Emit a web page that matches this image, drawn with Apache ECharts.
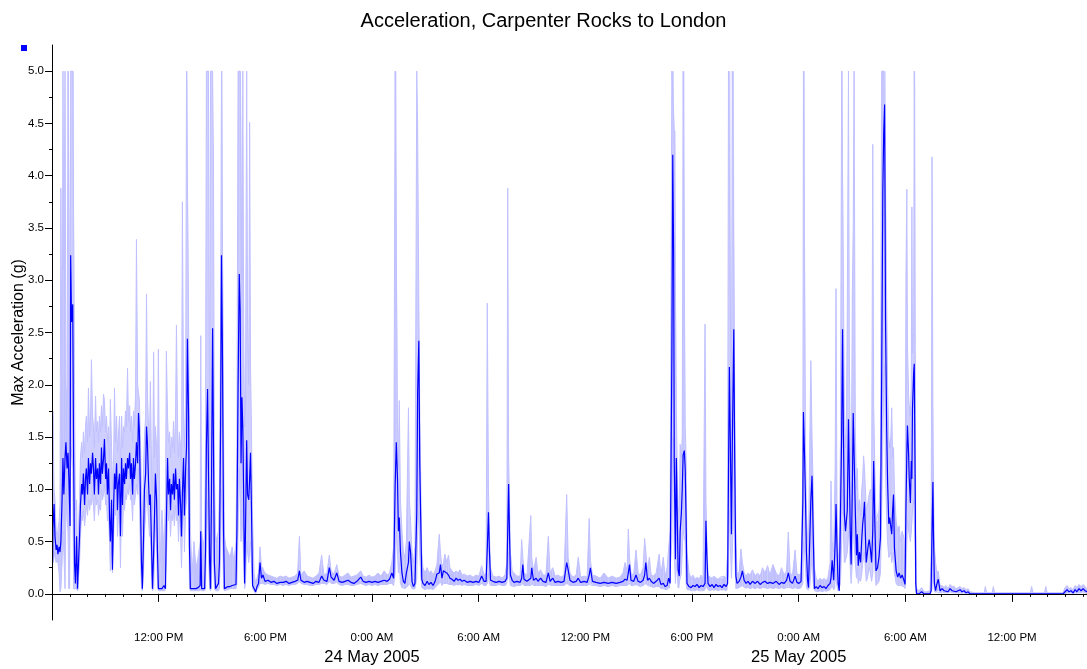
<!DOCTYPE html>
<html>
<head>
<meta charset="utf-8">
<script src="https://cdn.jsdelivr.net/npm/echarts@6/dist/echarts.min.js"></script>
<style>
html,body{margin:0;padding:0;background:#fff;}
#chart{width:1087px;height:669px;}
</style>
</head>
<body>
<div id="chart"></div>
<script>
// ---- data: minutes after 23 May 2005 06:00, values in g ----
const minutesFromStart = [
2,3,7,10,14,17,20,24,27,30,
34,37,40,44,47,51,54,57,61,63,
66,70,73,76,79,83,86,89,93,96,
100,103,106,110,113,116,120,123,127,130,
133,137,140,143,147,150,154,157,160,164,
167,170,174,177,181,184,187,191,194,197,
201,204,208,211,214,218,221,224,228,231,
235,238,241,245,248,251,255,258,262,265,
268,272,275,278,282,285,289,292,295,299,
302,305,309,312,316,319,322,326,329,332,
336,339,343,346,349,353,356,359,365,371,
378,383,386,390,393,397,400,403,407,410,
413,417,420,424,427,430,434,437,440,444,
447,451,454,457,461,464,467,473,479,486,
493,500,502,505,510,515,518,521,525,528,
532,535,538,542,545,548,552,557,562,565,
569,572,575,579,582,587,594,601,608,614,
621,624,628,632,635,638,641,644,647,650,
653,657,660,664,667,670,673,677,682,687,
692,697,702,707,712,719,729,739,749,759,
770,780,790,800,810,820,829,835,840,851,
861,871,881,891,901,910,918,928,936,942,
952,961,969,979,989,999,1009,1019,1029,1042,
1050,1060,1070,1080,1090,1100,1110,1121,1131,1139,
1147,1153,1158,1162,1166,1169,1172,1176,1181,1186,
1191,1196,1203,1206,1210,1215,1220,1225,1231,1234,
1238,1241,1244,1248,1252,1259,1266,1272,1279,1286,
1293,1299,1307,1311,1316,1321,1326,1332,1338,1343,
1350,1357,1364,1370,1377,1384,1391,1401,1411,1421,
1431,1441,1450,1458,1465,1469,1473,1476,1480,1488,
1499,1509,1519,1529,1535,1538,1541,1544,1547,1553,
1559,1569,1580,1585,1589,1593,1603,1616,1619,1625,
1634,1640,1649,1657,1667,1675,1681,1690,1698,1708,
1718,1728,1737,1742,1748,1758,1769,1776,1784,1796,
1806,1813,1817,1824,1836,1850,1863,1877,1890,1904,
1917,1927,1934,1941,1945,1949,1954,1963,1971,1978,
1986,1995,2000,2004,2010,2016,2022,2030,2039,2049,
2055,2063,2069,2076,2081,2086,2092,2095,2098,2100,
2104,2107,2110,2113,2117,2120,2124,2127,2130,2134,
2137,2140,2143,2150,2157,2163,2170,2177,2184,2190,
2197,2204,2207,2210,2214,2221,2228,2234,2241,2248,
2255,2261,2268,2275,2280,2283,2286,2289,2293,2296,
2301,2304,2308,2312,2319,2325,2330,2336,2342,2349,
2356,2364,2373,2381,2390,2398,2406,2415,2423,2433,
2444,2454,2462,2471,2479,2485,2491,2499,2508,2514,
2521,2528,2534,2536,2540,2543,2546,2550,2553,2557,
2561,2565,2569,2573,2579,2585,2592,2599,2606,2612,
2619,2626,2629,2633,2638,2643,2646,2649,2653,2657,
2661,2665,2668,2671,2674,2678,2681,2684,2688,2691,
2694,2697,2701,2704,2707,2711,2715,2718,2721,2725,
2729,2733,2736,2739,2742,2745,2748,2752,2755,2758,
2762,2766,2770,2773,2777,2781,2786,2791,2796,2800,
2804,2807,2810,2813,2817,2820,2824,2827,2831,2834,
2837,2840,2843,2849,2854,2859,2864,2869,2874,2879,
2882,2885,2887,2891,2893,2897,2900,2902,2904,2908,
2910,2913,2915,2918,2926,2935,2943,2953,2963,2967,
2970,2973,2975,2978,2982,2986,2991,2997,3004,3011,
3017,3024,3031,3038,3044,3051,3058,3065,3071,3078,
3085,3092,3098,3115,3132,3146,3150,3154,3173,3177,
3181,3200,3233,3267,3302,3306,3311,3335,3350,3354,
3358,3385,3412,3419,3426,3432,3439,3446,3453,3459,
3466,3473,3480,3486,3493
];

const avgAccel = [
0.30,0.62,0.86,0.55,0.42,0.47,0.38,0.45,0.40,0.50,
0.90,1.30,0.95,1.30,1.45,1.20,1.35,1.10,0.65,3.24,
2.60,2.77,1.30,0.30,0.10,0.55,0.05,0.05,0.55,0.85,
1.05,0.95,1.15,0.85,1.10,1.20,0.95,1.30,1.05,1.25,
1.15,1.35,1.20,0.95,1.30,1.10,1.20,0.95,1.25,1.05,
1.40,1.15,1.30,1.48,1.10,1.25,0.95,1.20,0.75,0.50,
0.90,0.23,0.85,1.15,1.00,1.25,0.80,1.05,1.15,0.55,
1.30,0.85,1.20,1.05,1.25,1.10,1.30,1.20,1.35,1.10,
1.25,0.95,1.30,1.10,1.25,1.45,1.25,1.73,1.55,0.80,
0.30,0.05,0.55,1.00,1.15,1.60,1.45,1.05,0.85,0.95,
0.45,0.05,0.40,0.75,1.15,0.90,0.40,0.05,0.05,0.05,
0.08,0.05,0.70,1.30,0.95,1.10,0.80,1.05,0.95,1.15,
0.90,1.20,1.00,1.05,0.75,1.10,0.85,0.55,0.95,1.30,
0.75,1.20,1.40,2.44,1.70,0.45,0.05,0.06,0.05,0.05,
0.06,0.08,0.60,0.05,0.05,0.05,0.40,1.40,1.96,1.20,
0.30,0.05,0.90,2.54,1.40,0.30,0.05,0.05,0.10,0.30,
1.60,3.24,2.40,0.60,0.05,0.06,0.07,0.07,0.08,0.07,
0.09,0.60,2.00,3.06,2.70,1.25,1.88,1.58,0.90,0.10,
0.60,1.47,0.95,0.90,1.10,1.35,0.85,0.08,0.07,0.02,
0.07,0.10,0.30,0.15,0.18,0.12,0.13,0.11,0.12,0.10,
0.11,0.11,0.12,0.10,0.11,0.12,0.13,0.22,0.13,0.11,
0.12,0.11,0.10,0.12,0.11,0.17,0.13,0.12,0.25,0.16,
0.13,0.20,0.12,0.11,0.12,0.13,0.11,0.10,0.12,0.16,
0.12,0.11,0.12,0.11,0.12,0.11,0.12,0.13,0.12,0.14,
0.20,0.15,1.02,1.45,1.10,0.60,0.73,0.40,0.20,0.12,
0.10,0.20,0.30,0.50,0.40,0.12,0.07,0.10,0.77,1.93,
2.42,1.28,0.77,0.14,0.10,0.08,0.12,0.09,0.11,0.08,
0.12,0.19,0.20,0.28,0.15,0.22,0.22,0.20,0.18,0.15,
0.14,0.12,0.15,0.13,0.14,0.12,0.13,0.11,0.12,0.11,
0.12,0.11,0.17,0.12,0.12,0.43,0.78,0.43,0.13,0.12,
0.11,0.12,0.11,0.12,0.15,0.60,1.05,0.57,0.18,0.13,
0.11,0.12,0.11,0.15,0.28,0.14,0.12,0.15,0.25,0.13,
0.15,0.12,0.15,0.12,0.11,0.20,0.12,0.15,0.11,0.12,
0.11,0.12,0.30,0.23,0.13,0.11,0.12,0.15,0.11,0.12,
0.11,0.18,0.25,0.12,0.11,0.10,0.11,0.10,0.11,0.10,
0.11,0.12,0.14,0.13,0.20,0.28,0.13,0.12,0.18,0.12,
0.11,0.13,0.18,0.30,0.13,0.15,0.12,0.10,0.12,0.15,
0.09,0.10,0.07,0.08,0.15,0.10,2.27,4.20,3.23,1.30,
0.33,1.30,0.78,0.23,0.17,0.60,0.77,1.00,1.33,1.37,
1.20,0.70,0.10,0.07,0.06,0.08,0.07,0.09,0.06,0.08,
0.07,0.10,0.70,0.37,0.10,0.07,0.09,0.06,0.09,0.07,
0.08,0.06,0.09,0.07,0.10,1.10,2.17,1.52,0.57,1.43,
2.53,1.30,0.17,0.10,0.12,0.16,0.22,0.13,0.10,0.12,
0.09,0.12,0.10,0.12,0.09,0.11,0.12,0.10,0.11,0.10,
0.12,0.09,0.11,0.10,0.13,0.20,0.12,0.10,0.17,0.11,
0.10,0.12,0.88,1.74,1.30,0.89,0.41,0.13,0.06,0.48,
0.90,1.13,0.58,0.05,0.07,0.05,0.08,0.06,0.07,0.05,
0.08,0.10,0.15,0.32,0.13,0.48,0.86,0.47,0.10,0.03,
0.76,1.53,2.53,1.52,0.77,0.60,0.70,0.80,1.67,1.13,
0.60,0.28,1.00,1.73,1.33,0.80,0.37,0.57,0.27,0.40,
0.30,0.53,0.67,0.75,0.88,0.57,0.30,0.40,0.47,0.52,
0.43,0.30,0.60,1.27,0.67,0.22,0.25,0.35,0.54,2.08,
3.88,4.42,4.68,2.63,1.57,1.07,0.67,0.73,0.73,0.57,
0.80,0.95,0.44,0.22,0.16,0.20,0.15,0.18,0.14,0.09,
0.83,1.34,1.61,1.33,1.11,0.87,1.27,1.10,1.77,2.12,
2.20,1.10,0.10,0.00,0.00,0.02,0.00,0.00,0.00,0.03,
0.60,1.07,0.55,0.10,0.03,0.09,0.14,0.03,0.05,0.03,
0.04,0.02,0.05,0.03,0.04,0.02,0.03,0.04,0.02,0.03,
0.01,0.02,0.00,0.00,0.00,0.00,0.01,0.00,0.00,0.01,
0.00,0.00,0.00,0.00,0.00,0.01,0.00,0.00,0.00,0.01,
0.00,0.00,0.00,0.02,0.04,0.02,0.03,0.01,0.04,0.02,
0.05,0.03,0.05,0.03,0.02
];

const minAccel = [
0.28,0.30,0.40,0.35,0.30,0.32,0.30,0.20,0.02,0.05,
0.30,0.60,0.40,0.05,0.90,0.70,0.60,0.05,0.05,1.20,
1.40,1.20,0.05,0.05,0.05,0.05,0.03,0.03,0.30,0.55,
0.75,0.70,0.80,0.65,0.75,0.85,0.75,0.90,0.80,0.90,
0.85,0.95,0.85,0.70,0.95,0.85,0.90,0.75,0.85,0.80,
1.00,0.90,0.95,1.05,0.85,0.90,0.70,0.75,0.50,0.22,
0.45,0.20,0.55,0.80,0.75,0.90,0.55,0.75,0.80,0.25,
0.90,0.55,0.85,0.80,0.95,0.90,1.00,0.95,1.05,0.90,
0.95,0.70,1.00,0.85,0.95,1.05,0.95,1.20,0.90,0.30,
0.05,0.03,0.20,0.60,0.75,1.00,0.90,0.70,0.55,0.60,
0.20,0.03,0.05,0.40,0.70,0.45,0.10,0.03,0.03,0.03,
0.03,0.03,0.30,0.80,0.70,0.80,0.55,0.75,0.70,0.80,
0.65,0.85,0.70,0.75,0.50,0.80,0.55,0.25,0.60,0.90,
0.40,0.80,0.90,1.20,0.80,0.05,0.03,0.03,0.03,0.03,
0.03,0.03,0.05,0.03,0.03,0.03,0.05,0.50,0.90,0.40,
0.05,0.03,0.05,0.80,0.40,0.05,0.03,0.03,0.03,0.05,
0.40,1.00,0.80,0.05,0.03,0.04,0.04,0.05,0.05,0.05,
0.05,0.10,0.60,1.20,0.90,0.50,0.80,0.60,0.30,0.05,
0.10,0.50,0.40,0.30,0.40,0.50,0.30,0.05,0.04,0.00,
0.04,0.06,0.10,0.10,0.10,0.09,0.10,0.09,0.09,0.08,
0.09,0.08,0.09,0.08,0.09,0.09,0.10,0.12,0.10,0.09,
0.09,0.08,0.08,0.09,0.09,0.10,0.10,0.09,0.12,0.10,
0.10,0.11,0.09,0.08,0.09,0.09,0.08,0.08,0.09,0.10,
0.09,0.08,0.09,0.08,0.09,0.08,0.09,0.09,0.09,0.10,
0.10,0.08,0.20,0.60,0.40,0.20,0.30,0.10,0.06,0.06,
0.05,0.06,0.08,0.10,0.08,0.05,0.04,0.05,0.15,0.60,
0.80,0.40,0.20,0.06,0.05,0.04,0.05,0.04,0.05,0.04,
0.06,0.08,0.10,0.12,0.08,0.10,0.10,0.10,0.09,0.09,
0.09,0.08,0.09,0.08,0.09,0.08,0.09,0.08,0.08,0.08,
0.09,0.08,0.10,0.08,0.08,0.10,0.20,0.10,0.08,0.08,
0.08,0.09,0.08,0.08,0.09,0.15,0.40,0.15,0.08,0.08,
0.07,0.08,0.08,0.08,0.10,0.08,0.08,0.08,0.10,0.08,
0.08,0.08,0.08,0.08,0.07,0.09,0.08,0.08,0.08,0.08,
0.08,0.08,0.10,0.09,0.08,0.08,0.08,0.08,0.08,0.08,
0.08,0.09,0.10,0.08,0.08,0.07,0.08,0.07,0.08,0.07,
0.08,0.08,0.08,0.08,0.09,0.10,0.08,0.08,0.09,0.08,
0.07,0.08,0.09,0.10,0.08,0.08,0.07,0.06,0.07,0.07,
0.05,0.05,0.04,0.04,0.06,0.05,0.50,1.50,1.20,0.40,
0.10,0.30,0.20,0.06,0.05,0.15,0.20,0.40,0.60,0.60,
0.50,0.10,0.04,0.04,0.03,0.04,0.03,0.04,0.03,0.04,
0.03,0.04,0.10,0.06,0.04,0.03,0.04,0.03,0.04,0.03,
0.04,0.03,0.04,0.03,0.04,0.20,0.80,0.50,0.15,0.40,
0.90,0.40,0.05,0.05,0.06,0.07,0.08,0.06,0.05,0.06,
0.05,0.06,0.05,0.06,0.05,0.06,0.06,0.05,0.06,0.05,
0.06,0.05,0.06,0.05,0.06,0.07,0.06,0.05,0.06,0.05,
0.05,0.06,0.10,0.50,0.40,0.25,0.06,0.04,0.03,0.06,
0.20,0.40,0.10,0.03,0.03,0.02,0.03,0.02,0.03,0.02,
0.03,0.04,0.05,0.08,0.04,0.05,0.20,0.08,0.03,0.02,
0.10,0.50,1.00,0.60,0.30,0.30,0.35,0.40,0.60,0.45,
0.25,0.10,0.30,0.70,0.50,0.30,0.15,0.25,0.10,0.15,
0.12,0.20,0.30,0.35,0.40,0.25,0.12,0.15,0.20,0.25,
0.20,0.12,0.20,0.50,0.25,0.08,0.10,0.12,0.20,0.80,
1.50,2.00,2.20,1.20,0.70,0.50,0.35,0.35,0.40,0.30,
0.35,0.40,0.20,0.10,0.08,0.09,0.08,0.08,0.07,0.05,
0.20,0.50,0.70,0.60,0.60,0.50,0.60,0.60,0.80,0.90,
0.90,0.40,0.02,0.00,0.00,0.00,0.00,0.00,0.00,0.00,
0.05,0.30,0.15,0.02,0.01,0.02,0.03,0.01,0.02,0.01,
0.01,0.01,0.02,0.01,0.01,0.01,0.01,0.01,0.00,0.01,
0.00,0.00,0.00,0.00,0.00,0.00,0.00,0.00,0.00,0.00,
0.00,0.00,0.00,0.00,0.00,0.00,0.00,0.00,0.00,0.00,
0.00,0.00,0.00,0.00,0.01,0.00,0.01,0.00,0.01,0.00,
0.01,0.01,0.02,0.01,0.00
];

const maxAccel = [
0.88,1.75,1.00,0.90,0.60,0.55,0.55,0.70,0.85,3.88,
1.40,5.00,3.10,5.00,2.00,1.80,5.00,5.00,1.60,5.00,
5.00,5.00,5.00,2.00,0.80,0.90,0.30,0.60,0.90,1.30,
1.45,1.30,1.55,1.35,1.60,1.70,1.45,1.97,1.50,1.65,
2.24,1.70,1.60,1.40,1.89,1.55,1.65,1.45,1.70,1.55,
1.80,1.60,1.91,1.85,1.55,1.70,1.45,1.60,1.20,1.86,
1.40,1.00,1.30,1.97,1.45,1.70,1.35,1.50,1.70,1.20,
1.70,1.40,1.60,1.55,1.75,1.60,2.16,1.65,1.80,1.55,
1.70,1.45,1.75,1.60,1.90,3.39,2.00,1.92,1.85,1.40,
1.00,0.60,1.20,1.50,1.70,2.87,1.90,1.60,1.40,2.03,
1.20,0.80,2.31,1.30,1.60,1.40,1.10,2.34,0.30,0.80,
0.40,0.90,2.32,1.70,1.45,1.55,1.30,1.50,1.40,1.65,
1.35,1.70,2.57,1.55,1.30,1.55,1.40,1.10,3.75,1.80,
1.40,1.80,5.00,5.00,2.60,1.40,0.60,0.20,0.50,0.25,
0.35,0.50,2.47,0.60,0.45,0.55,1.40,5.00,5.00,5.00,
1.20,5.00,5.00,5.00,4.08,1.20,0.50,0.55,0.60,1.00,
2.50,5.00,5.00,1.60,0.55,0.45,0.40,0.35,0.45,0.30,
0.50,1.50,5.00,5.00,5.00,5.00,3.00,5.00,2.50,1.60,
1.80,5.00,2.60,2.00,4.51,2.20,1.60,0.70,0.20,0.10,
0.15,0.20,0.45,0.25,0.26,0.20,0.18,0.17,0.16,0.15,
0.17,0.16,0.17,0.15,0.16,0.17,0.20,0.55,0.18,0.22,
0.17,0.16,0.15,0.17,0.20,0.37,0.18,0.20,0.37,0.22,
0.19,0.28,0.17,0.16,0.18,0.20,0.16,0.17,0.18,0.22,
0.17,0.16,0.18,0.16,0.17,0.20,0.17,0.22,0.18,0.20,
0.30,0.45,5.00,5.00,1.60,1.20,1.85,0.90,0.60,0.40,
0.35,0.50,1.78,0.90,0.70,0.40,0.30,0.45,5.00,4.47,
2.80,1.80,1.20,0.40,0.25,0.20,0.25,0.20,0.22,0.18,
0.22,0.28,0.57,0.40,0.25,0.30,0.38,0.30,0.37,0.25,
0.22,0.20,0.22,0.20,0.23,0.18,0.19,0.17,0.18,0.16,
0.18,0.17,0.27,0.18,0.20,2.78,1.00,0.60,0.25,0.17,
0.16,0.17,0.15,0.18,0.30,3.88,1.30,0.90,0.40,0.22,
0.20,0.17,0.17,0.52,0.35,0.20,0.18,0.75,0.35,0.22,
0.35,0.20,0.23,0.18,0.18,0.55,0.20,0.25,0.17,0.18,
0.16,0.18,0.95,0.35,0.20,0.16,0.18,0.35,0.16,0.17,
0.16,0.72,0.32,0.18,0.17,0.15,0.20,0.15,0.17,0.15,
0.16,0.20,0.30,0.22,0.62,0.35,0.20,0.18,0.42,0.20,
0.18,0.25,0.53,0.40,0.22,0.35,0.18,0.17,0.20,0.38,
0.18,0.35,0.17,0.25,0.43,0.60,5.00,5.00,5.00,4.43,
4.43,1.80,1.20,0.82,0.80,1.43,1.30,1.50,5.00,5.00,
1.60,1.30,0.40,0.20,0.15,0.18,0.14,0.16,0.14,0.18,
0.15,2.58,0.90,0.50,0.18,0.16,0.15,0.17,0.15,0.14,
0.16,0.15,0.17,0.15,0.40,5.00,5.00,5.00,1.50,5.00,
5.00,2.00,0.50,0.20,0.20,0.43,0.30,0.20,0.17,0.20,
0.18,0.23,0.17,0.20,0.17,0.25,0.20,0.27,0.18,0.28,
0.20,0.17,0.25,0.18,0.22,0.59,0.20,0.18,0.42,0.20,
0.18,0.20,1.20,5.00,5.00,1.40,0.80,0.50,0.40,1.37,
2.23,1.50,1.00,0.25,0.15,0.12,0.15,0.13,0.15,0.12,
0.16,0.30,1.08,0.50,0.40,1.20,2.92,0.90,0.40,0.30,
1.50,5.00,5.00,3.00,1.80,1.40,1.60,2.70,5.00,2.20,
1.40,0.80,2.85,3.50,5.00,1.60,1.00,1.20,0.80,0.90,
0.75,1.00,1.10,1.32,1.20,1.00,0.80,0.85,0.90,0.95,
1.00,0.90,4.30,1.80,1.20,0.70,0.70,0.80,1.20,5.00,
5.00,5.00,5.00,5.00,2.80,2.00,1.50,1.40,1.50,1.78,
1.30,1.40,1.00,0.70,0.60,0.65,0.50,0.60,0.55,0.50,
3.05,3.87,2.40,1.90,1.80,1.70,2.00,3.70,2.30,2.50,
5.00,5.00,0.60,0.05,0.03,0.06,0.02,0.02,0.03,0.40,
4.18,1.80,1.00,0.45,0.30,0.20,0.22,0.08,0.08,0.06,
0.08,0.05,0.09,0.07,0.08,0.05,0.06,0.07,0.05,0.06,
0.04,0.05,0.02,0.01,0.01,0.01,0.07,0.01,0.01,0.07,
0.01,0.01,0.01,0.01,0.01,0.07,0.01,0.01,0.01,0.07,
0.01,0.01,0.01,0.06,0.08,0.05,0.06,0.04,0.08,0.06,
0.09,0.07,0.09,0.07,0.05
];

// ---- tick labels ----
const yLabelValues = [0, 0.5, 1, 1.5, 2, 2.5, 3, 3.5, 4, 4.5, 5];
const yMinorTickValues = [0.25, 0.75, 1.25, 1.75, 2.25, 2.75, 3.25, 3.75, 4.25, 4.75];
const xLabelHours = [6, 12, 18, 24, 30, 36, 42, 48, 54];   // hours after start (06:00, 23 May 2005)
const xLabelTexts = ['12:00 PM', '6:00 PM', '0:00 AM', '6:00 AM', '12:00 PM', '6:00 PM', '0:00 AM', '6:00 AM', '12:00 PM'];
const xDateHours = [18, 42];
const xDateTexts = ['24 May 2005', '25 May 2005'];
const axisEndMinutes = 3493;

// ---- build ----
const avgData = minutesFromStart.map((m, i) => [m, avgAccel[i]]);
const lowData = minutesFromStart.map((m, i) => [m, minAccel[i]]);
const highData = minutesFromStart.map((m, i) => [m, maxAccel[i]]);
// band segments between consecutive samples: [t0, lo0, hi0, t1, lo1, hi1]
const bandSegs = [];
for (let i = 0; i < minutesFromStart.length - 1; i++) {
  bandSegs.push([minutesFromStart[i], minAccel[i], maxAccel[i],
                 minutesFromStart[i + 1], minAccel[i + 1], maxAccel[i + 1]]);
}

const labelMinutes = xLabelHours.map(h => h * 60);
const labelText = {};
labelMinutes.forEach((m, i) => { labelText[m] = xLabelTexts[i]; });
const hourMinutes = [];
for (let h = 1; h * 60 <= axisEndMinutes; h++) hourMinutes.push(h * 60);
const dateMinutes = xDateHours.map(h => h * 60);
const dateText = {};
dateMinutes.forEach((m, i) => { dateText[m] = xDateTexts[i]; });

const FONT = '"Liberation Sans", Arial, sans-serif';
const LIGHT = '#c0c0ff';
const DARK = '#0000ff';

const chart = echarts.init(document.getElementById('chart'), null, {renderer: 'canvas'});
chart.setOption({
  animation: false,
  backgroundColor: '#ffffff',
  title: {
    text: 'Acceleration, Carpenter Rocks to London',
    left: 'center', top: 6,
    textStyle: {fontFamily: FONT, fontSize: 20, fontWeight: 'normal', color: '#000'}
  },
  legend: {
    left: 16, top: 40, padding: 5,
    itemWidth: 6, itemHeight: 6, icon: 'rect',
    data: ['Max Acceleration'],
    formatter: () => '',
    selectedMode: false,
    textStyle: {fontSize: 6}
  },
  grid: {left: 52, right: 0, top: 45, bottom: 49, containLabel: false, outerBoundsMode: 'none'},
  xAxis: [
    {
      type: 'value', min: 0, max: axisEndMinutes, z: 5,
      axisLine: {show: true, lineStyle: {color: '#000', width: 1}},
      axisTick: {show: true, length: 8, customValues: labelMinutes, lineStyle: {color: '#000'}},
      axisLabel: {show: true, customValues: labelMinutes, formatter: v => labelText[v] || '', margin: 12,
                  fontFamily: FONT, fontSize: 11.5, color: '#000', hideOverlap: false},
      splitLine: {show: false}
    },
    {
      type: 'value', min: 0, max: axisEndMinutes, position: 'bottom', z: 5,
      axisLine: {show: false},
      axisTick: {show: true, length: 3, customValues: hourMinutes, lineStyle: {color: '#000'}},
      axisLabel: {show: true, customValues: dateMinutes, formatter: v => dateText[v] || '',
                  margin: 29, fontFamily: FONT, fontSize: 16.5, color: '#000', hideOverlap: false},
      splitLine: {show: false}
    }
  ],
  yAxis: [
    {
      type: 'value', min: -0.25, max: 5.25, z: 5,
      name: 'Max Acceleration (g)', nameLocation: 'middle', nameGap: 25, nameMoveOverlap: false,
      nameTextStyle: {fontFamily: FONT, fontSize: 16, color: '#000'},
      axisLine: {show: true, lineStyle: {color: '#000', width: 1}},
      axisTick: {show: true, length: 7, customValues: yLabelValues, lineStyle: {color: '#000'}},
      axisLabel: {show: true, customValues: yLabelValues, formatter: v => v.toFixed(1), margin: 8,
                  fontFamily: FONT, fontSize: 11.5, color: '#000'},
      splitLine: {show: false}
    },
    {
      type: 'value', min: -0.25, max: 5.25, position: 'left', z: 5,
      axisLine: {show: false},
      axisTick: {show: true, length: 3, customValues: yMinorTickValues, lineStyle: {color: '#000'}},
      axisLabel: {show: false},
      splitLine: {show: false}
    }
  ],
  series: [
    {
      name: 'Range band', type: 'custom', data: bandSegs, silent: true, z: 1, clip: true,
      encode: {x: [0, 3], y: [1, 2, 4, 5]},
      renderItem: function (params, api) {
        const a = api.coord([api.value(0), api.value(1)]);
        const b = api.coord([api.value(0), api.value(2)]);
        const c = api.coord([api.value(3), api.value(5)]);
        const d = api.coord([api.value(3), api.value(4)]);
        return {type: 'polygon', shape: {points: [a, b, c, d]}, style: {fill: LIGHT, stroke: null}};
      }
    },
    {
      name: 'Range high', type: 'line', data: highData,
      symbol: 'none', silent: true, z: 2,
      lineStyle: {color: LIGHT, width: 1}, itemStyle: {color: LIGHT}
    },
    {
      name: 'Range low', type: 'line', data: lowData,
      symbol: 'none', silent: true, z: 2,
      lineStyle: {color: LIGHT, width: 1}, itemStyle: {color: LIGHT}
    },
    {
      name: 'Max Acceleration', type: 'line', data: avgData,
      symbol: 'none', silent: true, z: 3,
      lineStyle: {color: DARK, width: 1.2}, itemStyle: {color: DARK}
    }
  ]
});
</script>
</body>
</html>
